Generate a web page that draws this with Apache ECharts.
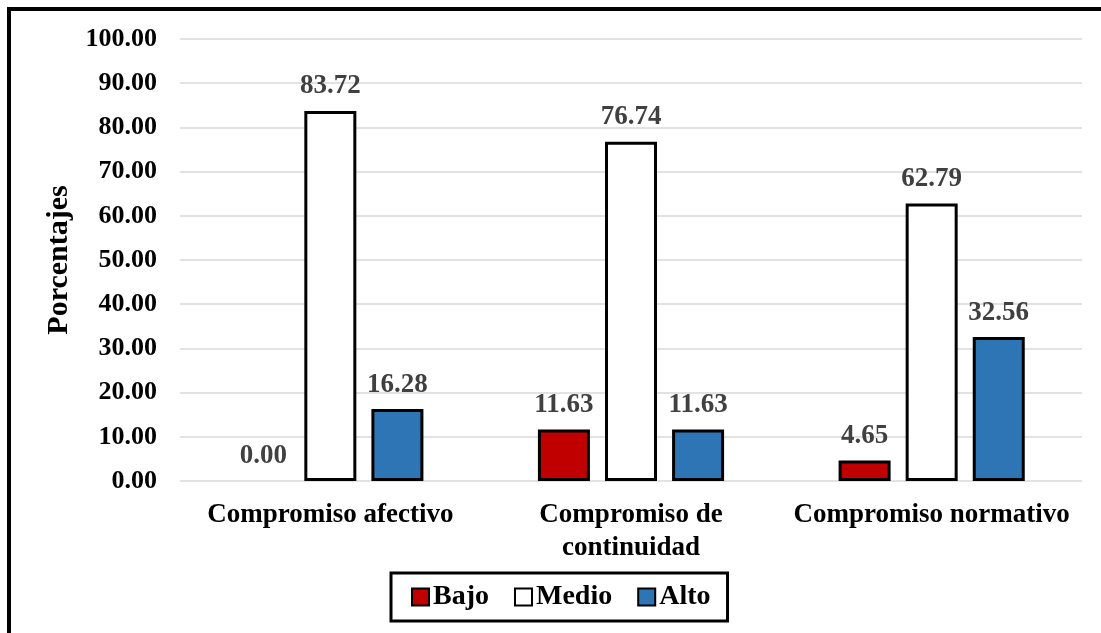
<!DOCTYPE html>
<html>
<head>
<meta charset="utf-8">
<script src="https://cdn.jsdelivr.net/npm/echarts@6/dist/echarts.min.js"></script>
<style>
  html, body { margin: 0; padding: 0; background: #ffffff; }
  #chart { width: 1101px; height: 633px; }
</style>
</head>
<body>
<div id="chart"></div>
<script>
// Dimensiones del compromiso organizacional
const categories = ['Compromiso afectivo', 'Compromiso de\ncontinuidad', 'Compromiso normativo'];
const bajo  = [0.00, 11.63, 4.65];
const medio = [83.72, 76.74, 62.79];
const alto  = [16.28, 11.63, 32.56];
const yTicks = { min: 0, max: 100, interval: 10 };

const FONT = '"Liberation Serif", "Times New Roman", serif';

// A zero-height bar keeps its label but draws no outline
function toItems(data) {
  return data.map(v => v === 0 ? { value: v, itemStyle: { borderWidth: 0 } } : v);
}

function barSeries(name, data, color) {
  return {
    name: name,
    type: 'bar',
    data: toItems(data),
    barWidth: 52,
    barGap: '29%',
    itemStyle: { color: color, borderColor: '#000000', borderWidth: 3 },
    label: {
      show: true,
      position: 'top',
      distance: 11,
      formatter: p => Number(p.value).toFixed(2),
      color: '#404040',
      fontFamily: FONT,
      fontWeight: 'bold',
      fontSize: 27
    }
  };
}

const chart = echarts.init(document.getElementById('chart'));
chart.setOption({
  animation: false,
  backgroundColor: '#ffffff',
  textStyle: { fontFamily: FONT, fontWeight: 'bold' },
  graphic: [{
    type: 'rect',
    z: -1,
    shape: { x: 9, y: 9, width: 1300, height: 900 },
    style: { fill: 'none', stroke: '#000000', lineWidth: 4 }
  }],
  grid: { left: 180, right: 19, top: 39, bottom: 152 },
  legend: {
    left: 391,
    top: 573,
    icon: 'rect',
    itemWidth: 17,
    itemHeight: 17,
    itemGap: 25,
    padding: [10, 17, 10, 20],
    borderColor: '#000000',
    borderWidth: 3,
    textStyle: { fontFamily: FONT, fontWeight: 'bold', fontSize: 28, color: '#000000', padding: [0, 0, 0, -1] },
    data: ['Bajo', 'Medio', 'Alto']
  },
  xAxis: {
    type: 'category',
    data: categories,
    axisLine: { show: false },
    axisTick: { show: false },
    axisLabel: {
      interval: 0,
      margin: 18,
      color: '#000000',
      fontFamily: FONT,
      fontWeight: 'bold',
      fontSize: 27,
      lineHeight: 33
    }
  },
  yAxis: {
    type: 'value',
    min: yTicks.min,
    max: yTicks.max,
    interval: yTicks.interval,
    name: 'Porcentajes',
    nameLocation: 'middle',
    nameGap: 99,
    nameTextStyle: { fontFamily: FONT, fontWeight: 'bold', fontSize: 30, color: '#000000' },
    axisLine: { show: false },
    axisTick: { show: false },
    axisLabel: {
      margin: 23,
      color: '#000000',
      fontFamily: FONT,
      fontWeight: 'bold',
      fontSize: 26,
      formatter: v => v.toFixed(2)
    },
    splitLine: { lineStyle: { color: '#d9d9d9', width: 1.5 } }
  },
  series: [
    barSeries('Bajo', bajo, '#c00000'),
    barSeries('Medio', medio, '#ffffff'),
    barSeries('Alto', alto, '#2e75b6')
  ]
});
</script>
</body>
</html>
